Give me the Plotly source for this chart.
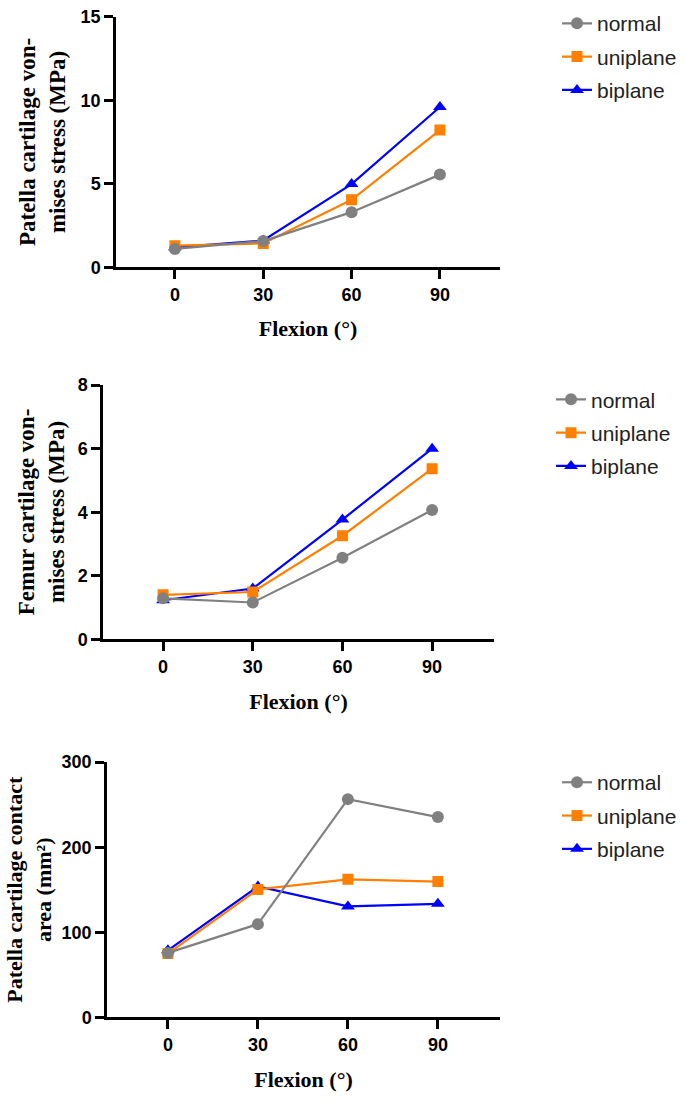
import plotly.graph_objects as go

W, H = 685, 1103

flexion = [0, 30, 60, 90]
series_names = ["normal", "uniplane", "biplane"]

# patella cartilage von-mises stress (MPa)
patella_stress_normal = [1.1, 1.57, 3.3, 5.55]
patella_stress_uniplane = [1.29, 1.43, 4.04, 8.22]
patella_stress_biplane = [1.2, 1.6, 4.98, 9.6]

# femur cartilage von-mises stress (MPa)
femur_stress_normal = [1.29, 1.16, 2.57, 4.07]
femur_stress_uniplane = [1.4, 1.49, 3.26, 5.37]
femur_stress_biplane = [1.23, 1.6, 3.77, 6.0]

# patella cartilage contact area (mm2)
contact_area_normal = [75.8, 109.6, 256.5, 235.4]
contact_area_uniplane = [75.0, 150.4, 162.3, 159.6]
contact_area_biplane = [78.8, 153.8, 130.4, 133.5]

y_titles = ["Patella cartilage von-<br>mises stress (MPa)",
            "Femur cartilage von-<br>mises stress (MPa)",
            "Patella cartilage contact<br>area (mm²)"]
y_ticks = [[0, 5, 10, 15], [0, 2, 4, 6, 8], [0, 100, 200, 300]]

colors = {"normal": "#808080", "uniplane": "#FF8000", "biplane": "#0000FF"}
symbols = {"normal": "circle", "uniplane": "square", "biplane": "triangle-up"}
sizes = {"normal": 12, "uniplane": 11, "biplane": 12}

panels = [
    {"normal": patella_stress_normal, "uniplane": patella_stress_uniplane, "biplane": patella_stress_biplane},
    {"normal": femur_stress_normal, "uniplane": femur_stress_uniplane, "biplane": femur_stress_biplane},
    {"normal": contact_area_normal, "uniplane": contact_area_uniplane, "biplane": contact_area_biplane},
]

# pixel boxes of the three plot areas: (left, right, top, bottom)
boxes = [(116, 500, 7, 262), (103, 494, 382, 641), (107, 500, 766, 1026)]
x_ranges = [[-20, 110.4], [-20.1, 110.7], [-20.3, 110.7]]
title_x = [42, 41, 29]
title_size = [23, 23, 22]
legend_top = [-7, 376, 766]
legend_left = [557, 551, 557]


def px_x(p):
    return p / W


def px_y(p):
    return 1 - p / H


fig = go.Figure()
layout = dict(width=W, height=H, margin=dict(l=0, r=0, t=0, b=0),
              plot_bgcolor="white", paper_bgcolor="white", showlegend=True,
              annotations=[])

for i, data in enumerate(panels):
    n = "" if i == 0 else str(i + 1)
    leg = "legend" + n
    for name in reversed(series_names):
        fig.add_trace(go.Scatter(
            x=flexion, y=data[name], name=name, mode="lines+markers",
            xaxis="x" + n, yaxis="y" + n, legend=leg,
            legendgroup=name + n, legendrank=series_names.index(name) + 1,
            line=dict(color=colors[name], width=2.2),
            marker=dict(color=colors[name], symbol=symbols[name], size=sizes[name])))

    l, r, t, b = boxes[i]
    axis_common = dict(showline=True, linecolor="black", linewidth=2.5,
                       ticks="outside", ticklen=9, tickwidth=2.5, tickcolor="black",
                       showgrid=False, zeroline=False,
                       tickfont=dict(family="Liberation Sans", size=18, color="black", weight="bold"))
    layout["xaxis" + n] = dict(axis_common, domain=[px_x(l), px_x(r)], range=x_ranges[i],
                               tickvals=flexion, anchor="y" + n,
                               title=dict(text="Flexion (°)", standoff=18,
                                          font=dict(family="Liberation Serif", size=22,
                                                    color="black", weight="bold")))
    layout["yaxis" + n] = dict(axis_common, domain=[px_y(b), px_y(t)],
                               range=[0, y_ticks[i][-1]], tickvals=y_ticks[i], anchor="x" + n)
    layout["annotations"].append(dict(
        text=y_titles[i], xref="paper", yref="paper", x=px_x(title_x[i]),
        y=px_y((t + b) / 2), xanchor="center", yanchor="middle", textangle=-90,
        showarrow=False, font=dict(family="Liberation Serif", size=title_size[i],
                                   color="black", weight="bold")))
    layout[leg] = dict(x=px_x(legend_left[i]), y=px_y(legend_top[i]), xanchor="left", yanchor="top",
                       bgcolor="rgba(0,0,0,0)", tracegroupgap=3, itemwidth=30,
                       font=dict(family="Liberation Sans", size=21, color="#222222"))

fig.update_layout(**layout)
fig.write_html("out.html", config={"displayModeBar": False},
               post_script="document.body.style.margin = '0';")
